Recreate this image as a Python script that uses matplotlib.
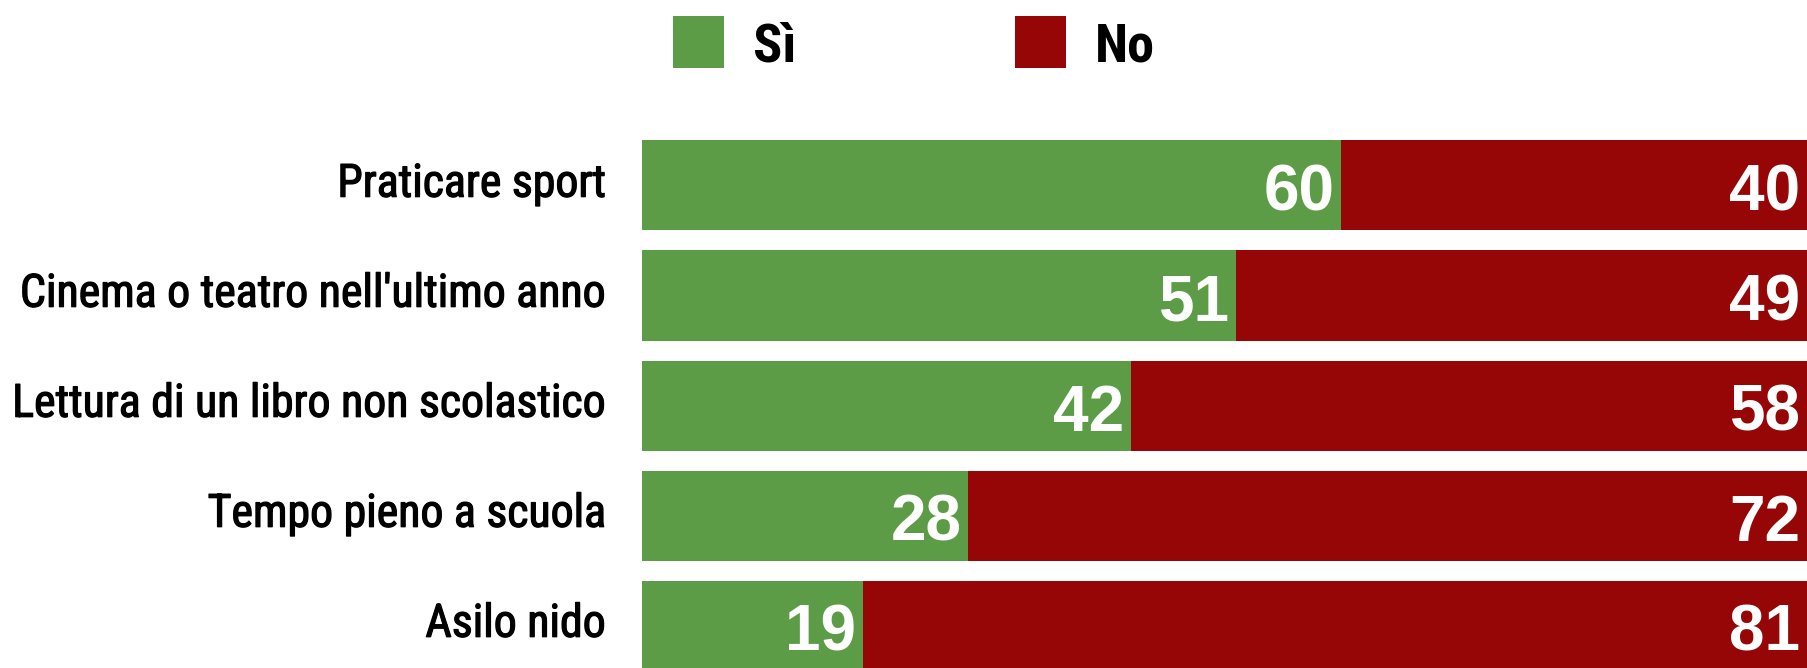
import matplotlib
matplotlib.use("Agg")
import matplotlib.pyplot as plt
from matplotlib.patches import Rectangle
import matplotlib.patheffects as pe

categories = ["Praticare sport", "Cinema o teatro nell'ultimo anno",
              "Lettura di un libro non scolastico", "Tempo pieno a scuola", "Asilo nido"]
si_values = [60, 51, 42, 28, 19]
no_values = [40, 49, 58, 72, 81]
legend_labels = ["Sì", "No"]

GREEN = "#5D9C46"
RED = "#960606"
COND = ["Roboto Condensed", "Archivo Narrow", "Barlow Condensed", "DejaVu Sans"]
NUMF = ["Liberation Sans", "DejaVu Sans"]

W, H = 1807, 668
fig = plt.figure(figsize=(W / 100, H / 100), dpi=100)
ax = fig.add_axes([641.5 / W, 0, 1 - 641.5 / W, 1])
ax.set_xlim(0, 100)
ax.set_ylim(4.386, -1.686)
ax.axis("off")

ys = list(range(len(categories)))
h = 90 / 110
ax.barh(ys, si_values, height=h, color=GREEN, linewidth=0)
ax.barh(ys, no_values, left=si_values, height=h, color=RED, linewidth=0)

thick = [pe.withStroke(linewidth=0.9, foreground="black")]
for y, cat, s, n in zip(ys, categories, si_values, no_values):
    ax.annotate(cat, xy=(0, y + 0.102), xytext=(-35.5 * 0.72, 0), textcoords="offset points",
                ha="right", va="baseline", fontsize=33, fontweight="normal", family=COND, color="black",
                annotation_clip=False, path_effects=thick)
    ax.annotate(str(s), xy=(s, y + 0.229), xytext=(-6.5 * 0.72, 0), textcoords="offset points",
                ha="right", va="baseline", fontsize=46, fontweight="bold", family=NUMF,
                color="white", annotation_clip=False)
    ax.annotate(str(n), xy=(s + n, y + 0.229), xytext=(-7 * 0.72, 0), textcoords="offset points",
                ha="right", va="baseline", fontsize=46, fontweight="bold", family=NUMF,
                color="white", annotation_clip=False)

# legend
for x0, col, lab in [(673, GREEN, legend_labels[0]), (1015, RED, legend_labels[1])]:
    fig.patches.append(Rectangle((x0 / W, 1 - 68 / H), 51 / W, 52 / H,
                                 transform=fig.transFigure, color=col, linewidth=0))
    fig.text((x0 + 80) / W, 1 - 62 / H, lab, ha="left", va="baseline",
             fontsize=39, fontweight="bold", family=COND, color="black")

fig.savefig("out.png", dpi=100)
